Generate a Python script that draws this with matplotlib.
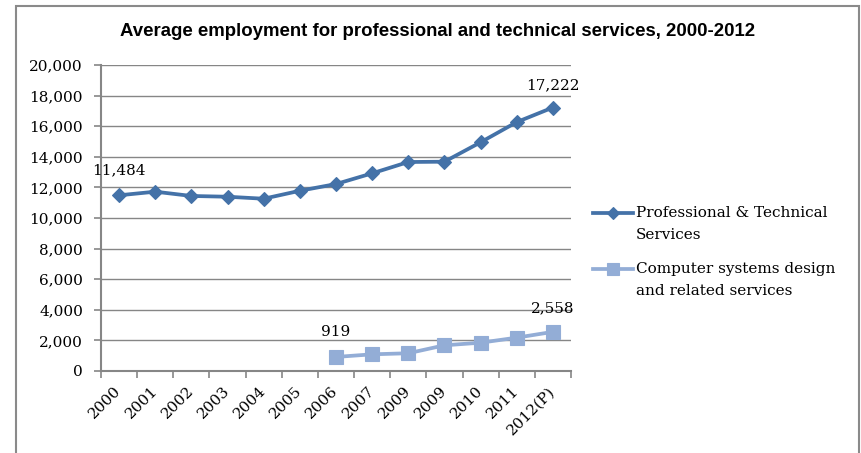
import matplotlib
matplotlib.use("Agg")
import matplotlib.pyplot as plt
from matplotlib.patches import Rectangle
from matplotlib.lines import Line2D
from matplotlib.ticker import FuncFormatter, FixedLocator

# Category labels (year 2009 appears twice in the source table)
years = ["2000", "2001", "2002", "2003", "2004", "2005", "2006",
         "2007", "2009", "2009", "2010", "2011", "2012(P)"]

# Average employment, professional & technical services
prof_tech = [11484, 11720, 11440, 11390, 11260, 11780, 12220,
             12920, 13660, 13680, 14950, 16270, 17222]

# Computer systems design and related services (from 2006)
comp_years_idx = [6, 7, 8, 9, 10, 11, 12]
comp_sys = [919, 1090, 1160, 1680, 1850, 2180, 2558]

series_names = [["Professional & Technical", "Services"],
                ["Computer systems design", "and related services"]]
title = "Average employment for professional and technical services, 2000-2012"

W, H = 861, 453
fig = plt.figure(figsize=(W / 100, H / 100), dpi=100)
fig.patch.set_facecolor("white")

# Axes box in pixel coordinates
x0, x1, ytop, ybot = 101, 571, 65, 371
ax = fig.add_axes([x0 / W, 1 - ybot / H, (x1 - x0) / W, (ybot - ytop) / H])

dark = "#4472A8"
light = "#93ADD6"
grid_c = "#868686"
serif = "DejaVu Serif"
fs = 11

styles = [dict(color=dark, lw=2.7, marker="D", ms=6.8, mfc=dark, mec=dark, mew=0.8),
          dict(color=light, lw=2.7, marker="s", ms=9.4, mfc=light, mec=light, mew=0.8)]

xs = list(range(len(years)))
ax.plot(xs, prof_tech, zorder=3, **styles[0])
ax.plot(comp_years_idx, comp_sys, zorder=3, **styles[1])

ax.set_xlim(-0.5, len(years) - 0.5)
ax.set_ylim(0, 20000)
ax.set_yticks(range(0, 20001, 2000))
ax.yaxis.set_major_formatter(FuncFormatter(lambda v, p: f"{int(v):,}"))
ax.grid(axis="y", color=grid_c, lw=1)
ax.set_axisbelow(True)

for s in ["top", "right"]:
    ax.spines[s].set_visible(False)
for s in ["left", "bottom"]:
    ax.spines[s].set_color(grid_c)
    ax.spines[s].set_linewidth(1.5)

# Category labels at centres, tick marks at boundaries
ax.set_xticks(xs)
ax.set_xticklabels(years, rotation=45, ha="right", va="center",
                   rotation_mode="anchor", fontfamily=serif, fontsize=fs)
ax.tick_params(axis="x", which="major", length=0, pad=13)
ax.xaxis.set_minor_locator(FixedLocator([i - 0.5 for i in range(len(years) + 1)]))
ax.tick_params(axis="x", which="minor", length=5, color=grid_c, width=1.2)
ax.tick_params(axis="y", length=5, color=grid_c, width=1.2, pad=8)
for lbl in ax.get_yticklabels():
    lbl.set_fontfamily(serif)
    lbl.set_fontsize(fs)

# Value labels on first and last points
def annotate(xi, val, dy):
    ax.annotate(f"{val:,}", (xi, val), xytext=(0, dy), textcoords="offset points",
                ha="center", va="baseline", fontfamily=serif, fontsize=fs)

annotate(0, prof_tech[0], 15)
annotate(len(years) - 1, prof_tech[-1], 13)
annotate(comp_years_idx[0], comp_sys[0], 15)
annotate(comp_years_idx[-1], comp_sys[-1], 14)

fig.text(438 / W, 1 - 31.5 / H, title, ha="center", va="center",
         fontfamily="Liberation Sans", fontweight="bold", fontsize=13.4)

# Legend: marker aligned with the first line of each entry
entry_y = [213, 269]
for st, names, y in zip(styles, series_names, entry_y):
    fig.add_artist(Line2D([593 / W, 633 / W], [1 - y / H, 1 - y / H],
                          transform=fig.transFigure, color=st["color"], lw=st["lw"]))
    fig.add_artist(Line2D([613 / W], [1 - y / H], transform=fig.transFigure,
                          ls="none", marker=st["marker"], ms=st["ms"] * 0.85,
                          mfc=st["mfc"], mec=st["mec"], mew=st["mew"]))
    for k, line in enumerate(names):
        fig.text(636 / W, 1 - (y + 22 * k) / H, line, ha="left", va="center",
                 fontfamily=serif, fontsize=fs)

# Outer chart frame
fig.add_artist(Rectangle((16 / W, -0.05), (859 - 16) / W, 1.05 - 6 / H,
                         transform=fig.transFigure, fill=False,
                         edgecolor="#8a8a8a", lw=1.5, clip_on=False))

fig.savefig("out.png", dpi=100, facecolor="white")
